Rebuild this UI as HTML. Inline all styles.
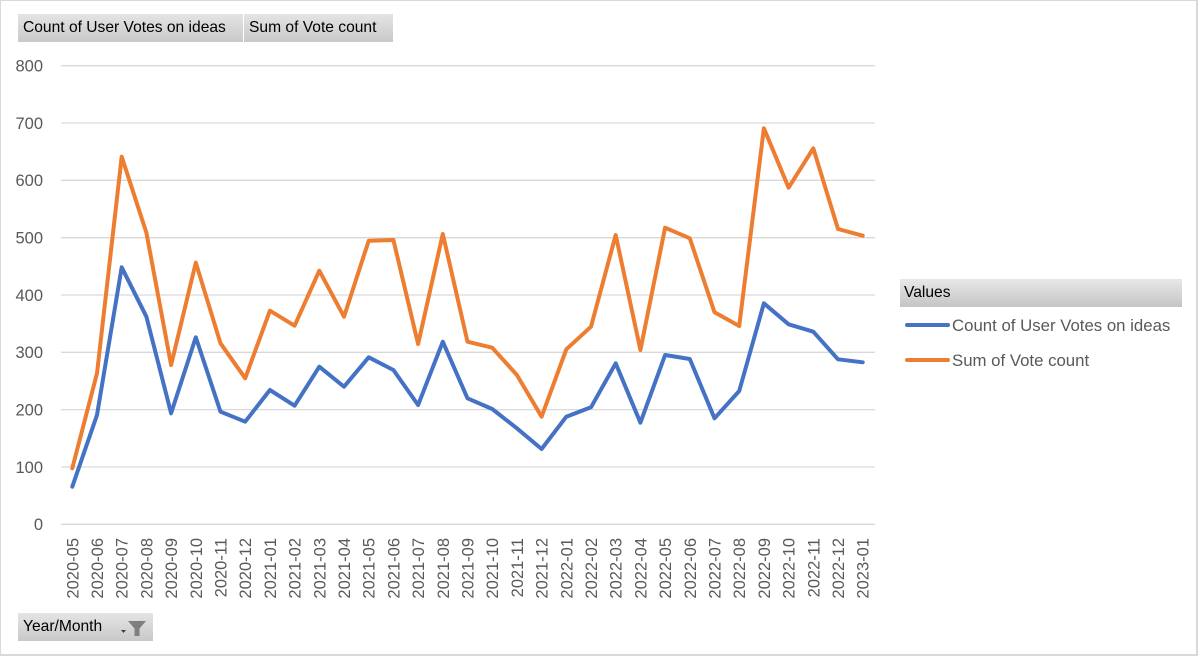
<!DOCTYPE html>
<html><head><meta charset="utf-8"><style>
html,body{margin:0;padding:0;background:#fff;}
#c{position:relative;width:1198px;height:656px;overflow:hidden;background:#fff;font-family:"Liberation Sans",Arial,sans-serif;}
.frame{position:absolute;left:0;top:0;width:1195px;height:653px;border-left:1px solid #d9d9d9;border-top:1px solid #d9d9d9;border-right:2px solid #d9d9d9;border-bottom:2px solid #d9d9d9;box-sizing:content-box;}
.btn{position:absolute;height:28px;background:linear-gradient(#e4e4e4,#c9c9c9);font-size:15.6px;color:#000;line-height:28px;padding-left:5px;box-sizing:border-box;white-space:nowrap;}
svg{position:absolute;left:0;top:0;}
</style></head><body><div id="c">
<div class="frame"></div>
<div class="btn" style="left:18px;top:14px;width:225px;">Count of User Votes on ideas</div>
<div class="btn" style="left:244px;top:14px;width:149px;">Sum of Vote count</div>
<div class="btn" style="left:18px;top:613px;width:135px;">Year/Month</div>
<div class="btn" style="left:900px;top:279px;width:282px;background:linear-gradient(#e8e8e8,#c4c4c4);padding-left:4px;">Values</div>
<svg width="1198" height="656" viewBox="0 0 1198 656" xmlns="http://www.w3.org/2000/svg">
<g stroke="#d9d9d9" stroke-width="1.3">
<line x1="61" x2="875" y1="524.3" y2="524.3"/>
<line x1="61" x2="875" y1="467.0" y2="467.0"/>
<line x1="61" x2="875" y1="409.6" y2="409.6"/>
<line x1="61" x2="875" y1="352.3" y2="352.3"/>
<line x1="61" x2="875" y1="295.0" y2="295.0"/>
<line x1="61" x2="875" y1="237.7" y2="237.7"/>
<line x1="61" x2="875" y1="180.3" y2="180.3"/>
<line x1="61" x2="875" y1="123.0" y2="123.0"/>
<line x1="61" x2="875" y1="65.7" y2="65.7"/>
</g>
<g font-family="Liberation Sans, Arial, sans-serif" font-size="16.5" fill="#595959" text-anchor="end">
<text x="43" y="530.2">0</text>
<text x="43" y="472.9">100</text>
<text x="43" y="415.5">200</text>
<text x="43" y="358.2">300</text>
<text x="43" y="300.9">400</text>
<text x="43" y="243.6">500</text>
<text x="43" y="186.2">600</text>
<text x="43" y="128.9">700</text>
<text x="43" y="71.6">800</text>
</g>
<g font-family="Liberation Sans, Arial, sans-serif" font-size="16.5" fill="#595959" text-anchor="end">
<text transform="translate(78.3,538) rotate(-90)">2020-05</text>
<text transform="translate(103.0,538) rotate(-90)">2020-06</text>
<text transform="translate(127.7,538) rotate(-90)">2020-07</text>
<text transform="translate(152.4,538) rotate(-90)">2020-08</text>
<text transform="translate(177.1,538) rotate(-90)">2020-09</text>
<text transform="translate(201.8,538) rotate(-90)">2020-10</text>
<text transform="translate(226.5,538) rotate(-90)">2020-11</text>
<text transform="translate(251.2,538) rotate(-90)">2020-12</text>
<text transform="translate(275.9,538) rotate(-90)">2021-01</text>
<text transform="translate(300.6,538) rotate(-90)">2021-02</text>
<text transform="translate(325.3,538) rotate(-90)">2021-03</text>
<text transform="translate(350.0,538) rotate(-90)">2021-04</text>
<text transform="translate(374.7,538) rotate(-90)">2021-05</text>
<text transform="translate(399.4,538) rotate(-90)">2021-06</text>
<text transform="translate(424.1,538) rotate(-90)">2021-07</text>
<text transform="translate(448.8,538) rotate(-90)">2021-08</text>
<text transform="translate(473.5,538) rotate(-90)">2021-09</text>
<text transform="translate(498.2,538) rotate(-90)">2021-10</text>
<text transform="translate(522.9,538) rotate(-90)">2021-11</text>
<text transform="translate(547.6,538) rotate(-90)">2021-12</text>
<text transform="translate(572.3,538) rotate(-90)">2022-01</text>
<text transform="translate(597.0,538) rotate(-90)">2022-02</text>
<text transform="translate(621.7,538) rotate(-90)">2022-03</text>
<text transform="translate(646.4,538) rotate(-90)">2022-04</text>
<text transform="translate(671.1,538) rotate(-90)">2022-05</text>
<text transform="translate(695.8,538) rotate(-90)">2022-06</text>
<text transform="translate(720.5,538) rotate(-90)">2022-07</text>
<text transform="translate(745.2,538) rotate(-90)">2022-08</text>
<text transform="translate(769.9,538) rotate(-90)">2022-09</text>
<text transform="translate(794.6,538) rotate(-90)">2022-10</text>
<text transform="translate(819.3,538) rotate(-90)">2022-11</text>
<text transform="translate(844.0,538) rotate(-90)">2022-12</text>
<text transform="translate(868.7,538) rotate(-90)">2023-01</text>
</g>
<polyline fill="none" stroke="#4472C4" stroke-width="4" stroke-linejoin="round" stroke-linecap="round" points="72.3,486.7 97.0,415 121.7,267.3 146.4,316.7 171.1,413.3 195.8,337.3 220.5,411.7 245.2,421.7 269.9,390 294.6,405.7 319.3,366.7 344.0,386.7 368.7,357.3 393.4,370 418.1,405 442.8,341.7 467.5,398.3 492.2,409 516.9,428.3 541.6,449 566.3,416.7 591.0,407.3 615.7,363.3 640.4,422.7 665.1,355 689.8,359 714.5,418.3 739.2,391 763.9,303.3 788.6,324.3 813.3,331.7 838.0,359.3 862.7,362.3"/>
<polyline fill="none" stroke="#ED7D31" stroke-width="4" stroke-linejoin="round" stroke-linecap="round" points="72.3,468.3 97.0,373.3 121.7,156.7 146.4,232.7 171.1,365 195.8,262.7 220.5,343.3 245.2,378.3 269.9,310.7 294.6,325.7 319.3,270.7 344.0,316.7 368.7,240.7 393.4,240 418.1,344 442.8,234 467.5,341.7 492.2,347.7 516.9,375 541.6,416.7 566.3,349.3 591.0,326.7 615.7,235 640.4,350 665.1,227.7 689.8,238.3 714.5,312.3 739.2,326 763.9,128.3 788.6,187.7 813.3,148.3 838.0,229 862.7,235.7"/>
<line x1="907" y1="325" x2="948" y2="325" stroke="#4472C4" stroke-width="4" stroke-linecap="round"/>
<line x1="907" y1="360" x2="948" y2="360" stroke="#ED7D31" stroke-width="4" stroke-linecap="round"/>
<g font-family="Liberation Sans, Arial, sans-serif" font-size="16.8" fill="#595959">
<text x="952" y="331">Count of User Votes on ideas</text>
<text x="952" y="366">Sum of Vote count</text>
</g>
<path d="M121,630 L126,630 L123.5,633 Z" fill="#404040"/>
<path d="M128,621 L146,621 L139.5,628.5 L139.5,636 L134.5,636 L134.5,628.5 Z" fill="#7f7f7f"/>
</svg>
</div></body></html>
